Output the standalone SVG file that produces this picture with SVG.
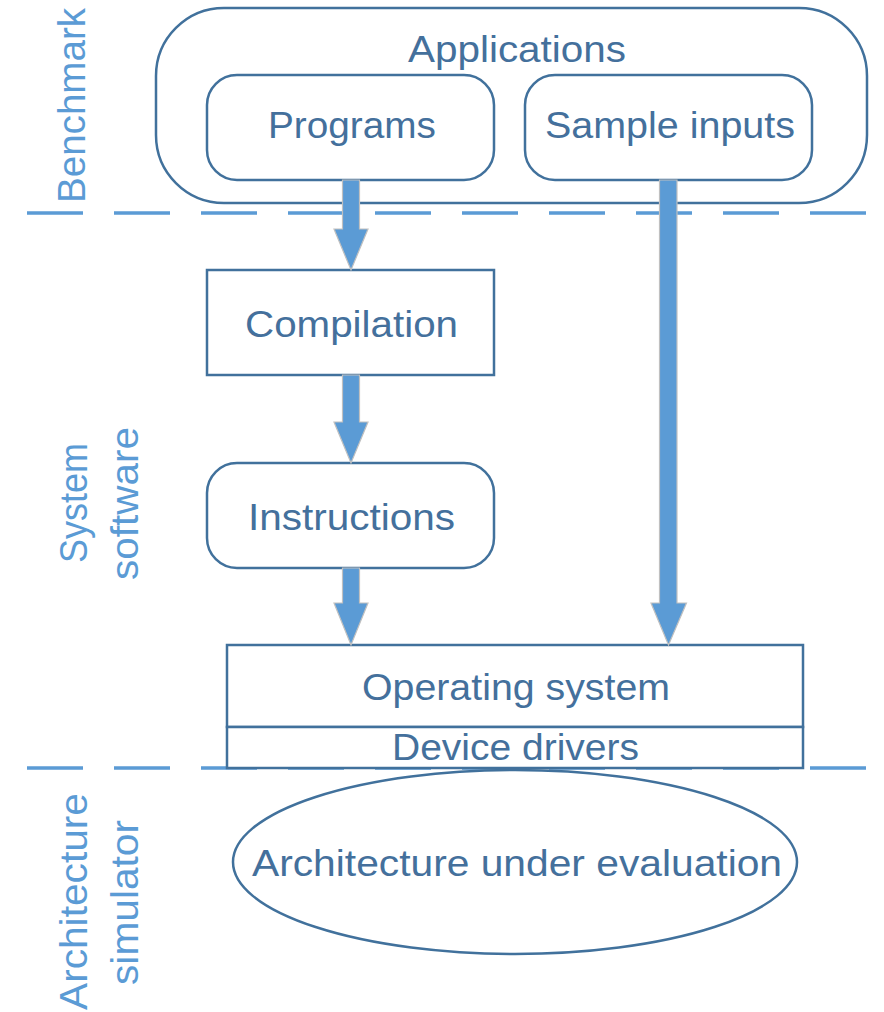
<svg xmlns="http://www.w3.org/2000/svg" width="884" height="1012" viewBox="0 0 884 1012">
<style>
.box{fill:#ffffff;stroke:#41719c;stroke-width:2.5}
.t{font-family:"Liberation Sans",Arial,sans-serif;font-size:36px;fill:#44709c;text-anchor:middle}
.lbl{font-family:"Liberation Sans",Arial,sans-serif;font-size:39px;fill:#5b9bd5;text-anchor:middle}
.dash{stroke:#5b9bd5;stroke-width:3.5;stroke-dasharray:56 31;fill:none}
.arr{fill:#5b9bd5;stroke:#c0c0c0;stroke-width:1.2;stroke-linejoin:miter}
</style>
<rect width="884" height="1012" fill="#ffffff"/>
<g id="separators">
<line class="dash" x1="27" y1="213" x2="884" y2="213"/>
<line class="dash" x1="27" y1="768" x2="884" y2="768"/>
</g>
<g id="layer-labels">
<text class="lbl" transform="translate(85,105.5) rotate(-90)" textLength="195" lengthAdjust="spacingAndGlyphs">Benchmark</text>
<text class="lbl" transform="translate(87,503) rotate(-90)" textLength="120" lengthAdjust="spacingAndGlyphs">System</text>
<text class="lbl" transform="translate(138,503.5) rotate(-90)" textLength="153" lengthAdjust="spacingAndGlyphs">software</text>
<text class="lbl" transform="translate(87,901.5) rotate(-90)" textLength="217" lengthAdjust="spacingAndGlyphs">Architecture</text>
<text class="lbl" transform="translate(138,902.5) rotate(-90)" textLength="165" lengthAdjust="spacingAndGlyphs">simulator</text>
</g>
<g id="applications">
<rect class="box" x="156" y="8" width="711" height="195" rx="68" ry="68"/>
<text class="t" x="517" y="62" textLength="218" lengthAdjust="spacingAndGlyphs">Applications</text>
</g>
<g id="programs">
<rect class="box" x="207" y="75" width="287" height="105" rx="30" ry="30"/>
<text class="t" x="352" y="138" textLength="168" lengthAdjust="spacingAndGlyphs">Programs</text>
</g>
<g id="sample-inputs">
<rect class="box" x="525" y="75" width="287" height="105" rx="30" ry="30"/>
<text class="t" x="670" y="138" textLength="250" lengthAdjust="spacingAndGlyphs">Sample inputs</text>
</g>
<g id="compilation">
<rect class="box" x="207" y="270" width="287" height="105"/>
<text class="t" x="351.5" y="337" textLength="213" lengthAdjust="spacingAndGlyphs">Compilation</text>
</g>
<g id="instructions">
<rect class="box" x="207" y="463" width="287" height="105" rx="30" ry="30"/>
<text class="t" x="351.5" y="530" textLength="207" lengthAdjust="spacingAndGlyphs">Instructions</text>
</g>
<g id="operating-system">
<rect class="box" x="227" y="645" width="576" height="82"/>
<text class="t" x="516" y="700" textLength="308" lengthAdjust="spacingAndGlyphs">Operating system</text>
</g>
<g id="device-drivers">
<rect class="box" x="227" y="727" width="576" height="41"/>
<text class="t" x="515.5" y="760" textLength="247" lengthAdjust="spacingAndGlyphs">Device drivers</text>
</g>
<g id="architecture">
<ellipse class="box" cx="515" cy="862" rx="282" ry="92"/>
<text class="t" x="517" y="876" textLength="530" lengthAdjust="spacingAndGlyphs">Architecture under evaluation</text>
</g>
<g id="connectors">
<polygon class="arr" points="342.5,180 359.5,180 359.5,229 368,229 351,270 334,229 342.5,229"/>
<polygon class="arr" points="342.5,375 359.5,375 359.5,422 368,422 351,463 334,422 342.5,422"/>
<polygon class="arr" points="342.5,568 359.5,568 359.5,603 368,603 351,645 334,603 342.5,603"/>
<polygon class="arr" points="659.5,180 677,180 677,603 686.5,603 668.5,645 651,603 659.5,603"/>
</g>
</svg>
